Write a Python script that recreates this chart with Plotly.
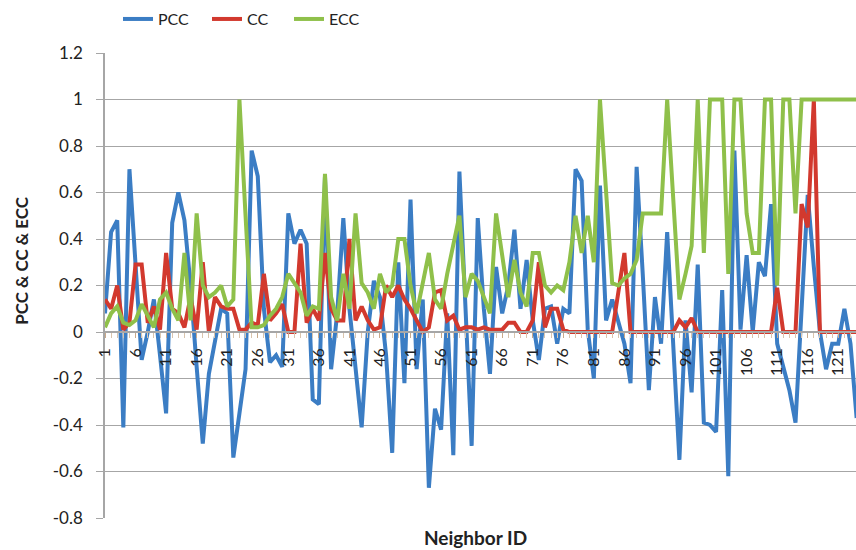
import plotly.graph_objects as go

neighbor_ids = list(range(1, 125))

pcc = [0.08, 0.43, 0.48, -0.41, 0.70, 0.30, -0.12, 0.00, 0.14, -0.10,
       -0.35, 0.47, 0.60, 0.48, 0.20, -0.15, -0.48, -0.18, -0.05, 0.10,
       0.08, -0.54, -0.35, -0.16, 0.78, 0.67, 0.10, -0.13, -0.10, -0.15,
       0.51, 0.38, 0.44, 0.38, -0.29, -0.31, 0.67, -0.16, 0.08, 0.49,
       0.10, -0.15, -0.41, 0.00, 0.22, 0.15, -0.10, -0.52, 0.30, -0.22,
       0.57, -0.16, 0.14, -0.67, -0.33, -0.42, 0.08, -0.53, 0.69, 0.10,
       -0.49, 0.49, 0.10, -0.18, 0.28, 0.08, 0.20, 0.44, 0.10, 0.31,
       0.05, -0.12, 0.10, 0.11, -0.05, 0.10, 0.08, 0.70, 0.65, 0.01,
       -0.20, 0.63, 0.05, 0.14, 0.05, -0.05, -0.22, 0.71, 0.25, -0.25,
       0.15, -0.05, 0.43, -0.05, -0.55, 0.05, -0.26, 0.29, -0.39, -0.40,
       -0.43, 0.18, -0.62, 0.78, 0.01, 0.33, 0.00, 0.30, 0.24, 0.55,
       -0.05, -0.15, -0.25, -0.39, 0.10, 0.59, 0.28, 0.00, -0.16, -0.05,
       -0.05, 0.10, -0.05, -0.37]

cc = [0.14, 0.10, 0.20, 0.01, 0.04, 0.29, 0.29, 0.04, 0.11, 0.01,
      0.34, 0.10, 0.08, 0.02, 0.15, 0.01, 0.30, 0.00, 0.15, 0.11,
      0.10, 0.10, 0.01, 0.01, 0.04, 0.03, 0.25, 0.05, 0.08, 0.12,
      0.00, 0.00, 0.38, 0.04, 0.10, 0.05, 0.34, 0.10, 0.05, 0.05,
      0.40, 0.05, 0.11, 0.05, 0.01, 0.02, 0.20, 0.15, 0.20, 0.14,
      0.10, 0.05, 0.00, 0.02, 0.17, 0.18, 0.05, 0.07, 0.01, 0.02,
      0.02, 0.01, 0.02, 0.01, 0.01, 0.01, 0.04, 0.04, 0.00, 0.00,
      0.05, 0.30, 0.02, 0.10, 0.10, 0.01, 0.00, 0.00, 0.00, 0.00,
      0.00, 0.00, 0.00, 0.00, 0.17, 0.34, 0.00, 0.00, 0.00, 0.00,
      0.00, 0.00, 0.00, 0.00, 0.05, 0.02, 0.06, 0.00, 0.00, 0.00,
      0.00, 0.00, 0.00, 0.00, 0.00, 0.00, 0.00, 0.00, 0.00, 0.00,
      0.19, 0.00, 0.00, 0.00, 0.55, 0.45, 1.00, 0.00, 0.00, 0.00,
      0.00, 0.00, 0.00, 0.00]

ecc = [0.02, 0.08, 0.11, 0.04, 0.03, 0.05, 0.12, 0.07, 0.02, 0.14,
       0.17, 0.10, 0.05, 0.34, 0.05, 0.51, 0.20, 0.15, 0.17, 0.20,
       0.11, 0.14, 1.00, 0.50, 0.02, 0.02, 0.03, 0.07, 0.10, 0.15,
       0.25, 0.21, 0.17, 0.07, 0.11, 0.10, 0.68, 0.15, 0.05, 0.25,
       0.10, 0.51, 0.21, 0.17, 0.10, 0.25, 0.17, 0.20, 0.40, 0.40,
       0.20, 0.08, 0.20, 0.34, 0.14, 0.10, 0.25, 0.38, 0.50, 0.15,
       0.25, 0.22, 0.15, 0.08, 0.51, 0.34, 0.15, 0.31, 0.17, 0.11,
       0.34, 0.34, 0.20, 0.17, 0.20, 0.18, 0.30, 0.50, 0.34, 0.50,
       0.30, 1.00, 0.60, 0.21, 0.20, 0.23, 0.25, 0.31, 0.51, 0.51,
       0.51, 0.51, 1.00, 0.57, 0.14, 0.25, 0.37, 1.00, 0.34, 1.00,
       1.00, 1.00, 0.25, 1.00, 1.00, 0.51, 0.34, 0.34, 1.00, 1.00,
       0.20, 1.00, 1.00, 0.51, 1.00, 1.00, 1.00, 1.00, 1.00, 1.00,
       1.00, 1.00, 1.00, 1.00]

x_tick_labels = [1, 6, 11, 16, 21, 26, 31, 36, 41, 46, 51, 56, 61,
                 66, 71, 76, 81, 86, 91, 96, 101, 106, 111, 116, 121]
y_tick_values = [-0.8, -0.6, -0.4, -0.2, 0, 0.2, 0.4, 0.6, 0.8, 1, 1.2]
y_tick_labels = ["-0.8", "-0.6", "-0.4", "-0.2", "0", "0.2", "0.4",
                 "0.6", "0.8", "1", "1.2"]

series = [("PCC", pcc, "#3b7dc4", "legend", 0.0173),
          ("CC", cc, "#d2392e", "legend2", 0.1358),
          ("ECC", ecc, "#8fc04a", "legend3", 0.245)]

FONT = "Lato, 'Open Sans', sans-serif"

fig = go.Figure()
for name, vals, color, leg, _ in series:
    fig.add_trace(go.Scatter(
        x=neighbor_ids, y=vals, mode="lines", name=name, legend=leg,
        line=dict(color=color, width=4),
    ))

legend_common = dict(orientation="h", y=1.073, xanchor="left", yanchor="middle",
                     font=dict(size=16, color="#222"), bgcolor="rgba(0,0,0,0)")
layout_legends = {}
for name, vals, color, leg, lx in series:
    layout_legends[leg] = dict(legend_common, x=lx)

fig.update_layout(
    width=856, height=550,
    margin=dict(l=105, r=0, t=53, b=32, autoexpand=False),
    paper_bgcolor="white", plot_bgcolor="white",
    font=dict(family=FONT, size=16, color="#222"),
    showlegend=True,
    **layout_legends,
    xaxis=dict(
        range=[1, 123.9], anchor="free", position=0.4,
        tickmode="array", tickvals=x_tick_labels, ticktext=[str(v) for v in x_tick_labels],
        tickangle=-90, tickfont=dict(size=16, color="#222"),
        showgrid=False, zeroline=False,
        showline=True, linecolor="#a6a6a6", linewidth=1.5,
        ticks="outside", ticklen=5, tickcolor="#c9a98a", ticklabelstandoff=4,
        minor=dict(ticks="outside", dtick=1, tick0=1, ticklen=5, tickcolor="#d9c4ad"),
    ),
    yaxis=dict(
        range=[-0.8, 1.2], tickmode="array", tickvals=y_tick_values, ticktext=y_tick_labels,
        tickfont=dict(size=17, color="#222"),
        showgrid=True, gridcolor="#a6a6a6", gridwidth=1.2,
        zeroline=False, showline=True, linecolor="#a6a6a6", linewidth=1.5,
        ticks="outside", ticklen=7, tickcolor="#a6a6a6", ticklabelstandoff=10,
    ),
    annotations=[
        dict(text="<b>Neighbor ID</b>", xref="paper", yref="paper", x=0.494, y=-0.041,
             xanchor="center", yanchor="middle", showarrow=False,
             font=dict(size=19, color="#222")),
        dict(text="<b>PCC & CC & ECC</b>", xref="paper", yref="paper", x=-0.1105, y=0.553,
             xanchor="center", yanchor="middle", textangle=-90, showarrow=False,
             font=dict(size=17, color="#222")),
    ],
)

fig.write_html("out.html",
               config={"displayModeBar": False},
               post_script="document.body.style.margin='0';document.body.style.overflow='hidden';")
